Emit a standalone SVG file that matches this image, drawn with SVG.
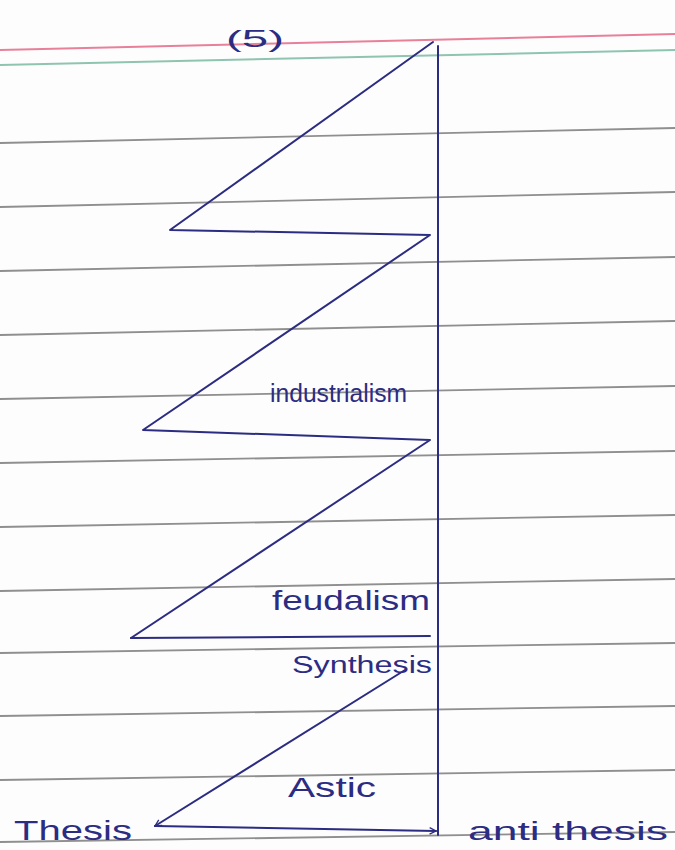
<svg xmlns="http://www.w3.org/2000/svg" width="675" height="850" viewBox="0 0 675 850">
<defs>
<style>
.rule{stroke:#8f8f8f;stroke-width:1.8;fill:none}
.ink{stroke:#2c2c82;stroke-width:2;fill:none;stroke-linecap:round;stroke-linejoin:round}
.lbl{font-family:"Liberation Sans","DejaVu Sans",sans-serif;fill:#2c2c82}
</style>
<marker id="ah" viewBox="0 0 10 10" refX="9" refY="5" markerWidth="8" markerHeight="8" orient="auto" markerUnits="userSpaceOnUse">
<path d="M1,1 L9,5 L1,9" fill="none" stroke="#2c2c82" stroke-width="1.6"/>
</marker>
</defs>
<rect width="675" height="850" fill="#fdfdfd"/>
<g id="paper">
<line x1="0" y1="50" x2="675" y2="34" stroke="#e8809a" stroke-width="2"/>
<line x1="0" y1="65" x2="675" y2="50" stroke="#8fc4b0" stroke-width="2"/>
<line class="rule" x1="0" y1="143" x2="675" y2="128"/>
<line class="rule" x1="0" y1="207" x2="675" y2="192"/>
<line class="rule" x1="0" y1="271" x2="675" y2="257"/>
<line class="rule" x1="0" y1="335" x2="675" y2="321"/>
<line class="rule" x1="0" y1="399" x2="675" y2="386"/>
<line class="rule" x1="0" y1="463" x2="675" y2="451"/>
<line class="rule" x1="0" y1="527" x2="675" y2="515"/>
<line class="rule" x1="0" y1="591" x2="675" y2="579"/>
<line class="rule" x1="0" y1="653" x2="675" y2="643"/>
<line class="rule" x1="0" y1="716" x2="675" y2="706"/>
<line class="rule" x1="0" y1="780" x2="675" y2="770"/>
<line class="rule" x1="0" y1="842" x2="675" y2="832"/>
</g>
<g id="connectors">
<path class="ink" d="M438,46 L438,835"/>
<path class="ink" d="M433,42 L170,230 L430,235 L143,430 L430,440 L131,638"/>
<path class="ink" d="M131,638 L430,636"/>
<path class="ink" d="M405,670 L155,826" marker-end="url(#ah)"/>
<path class="ink" d="M155,826 L436,831" marker-end="url(#ah)"/>
</g>
<g id="label-5"><text class="lbl" x="226" y="47" font-size="24" fill="#222244" textLength="58" lengthAdjust="spacingAndGlyphs">(5)</text></g>
<g id="label-industrialism"><text class="lbl" x="270" y="402" font-size="26" textLength="137" lengthAdjust="spacingAndGlyphs">industrialism</text></g>
<g id="label-feudalism"><text class="lbl" x="272" y="610" font-size="28" textLength="158" lengthAdjust="spacingAndGlyphs">feudalism</text></g>
<g id="label-synthesis"><text class="lbl" x="292" y="673" font-size="23" textLength="140" lengthAdjust="spacingAndGlyphs">Synthesis</text></g>
<g id="label-astic"><text class="lbl" x="288" y="797" font-size="28" textLength="88" lengthAdjust="spacingAndGlyphs">Astic</text></g>
<g id="label-thesis"><text class="lbl" x="14" y="840" font-size="28" textLength="118" lengthAdjust="spacingAndGlyphs">Thesis</text></g>
<g id="label-antithesis"><text class="lbl" x="468" y="840" font-size="26" textLength="200" lengthAdjust="spacingAndGlyphs">anti thesis</text></g>
</svg>
